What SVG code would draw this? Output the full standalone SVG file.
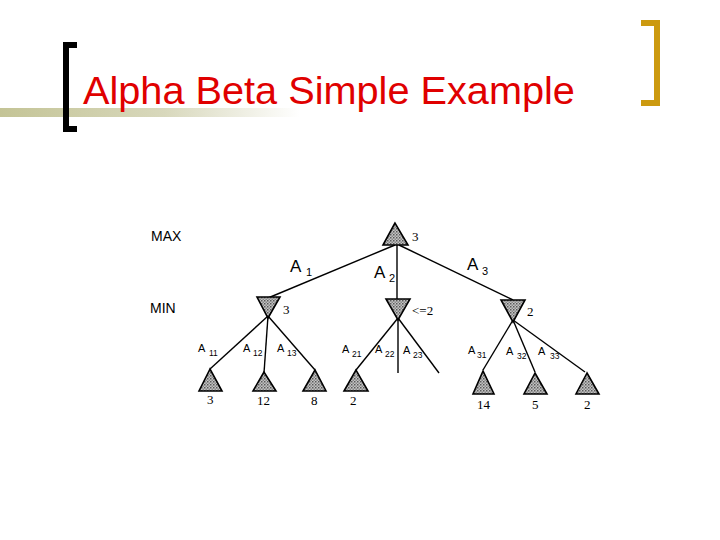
<svg xmlns="http://www.w3.org/2000/svg" width="720" height="540" viewBox="0 0 720 540">
<defs>
<linearGradient id="band" x1="0" y1="0" x2="1" y2="0">
<stop offset="0" stop-color="#c4c496"/>
<stop offset="0.55" stop-color="#d8d8bc"/>
<stop offset="1" stop-color="#ffffff"/>
</linearGradient>
<pattern id="hatch" width="3" height="3" patternUnits="userSpaceOnUse">
<rect width="3" height="3" fill="#c4c4c4"/>
<rect width="1.5" height="1.5" fill="#5a5a5a"/>
<rect x="1.5" y="1.5" width="1.5" height="1.5" fill="#888"/>
</pattern>
<style>
.tri{fill:url(#hatch);stroke:#000;stroke-width:1.6;stroke-linejoin:miter}
.edge{stroke:#000;stroke-width:1.4;fill:none}
.lvl{font-family:"Liberation Sans",Arial,sans-serif;font-size:14px;fill:#000}
.big{font-family:"Liberation Sans",Arial,sans-serif;font-size:17px;fill:#000}
.bsub{font-family:"Liberation Sans",Arial,sans-serif;font-size:11px;fill:#000}
.sm{font-family:"Liberation Sans",Arial,sans-serif;font-size:11px;fill:#000}
.ssub{font-family:"Liberation Sans",Arial,sans-serif;font-size:8.5px;fill:#000}
.val{font-family:"Liberation Serif","Times New Roman",serif;font-size:13px;fill:#000}
</style>
</defs>
<rect width="720" height="540" fill="#fff"/>
<g id="title">
<rect x="0" y="108" width="300" height="9" fill="url(#band)"/>
<path d="M77,45 H66 V129 H77" fill="none" stroke="#000" stroke-width="6"/>
<path d="M641,23 H657 V103 H641" fill="none" stroke="#cc9a10" stroke-width="6"/>
<text x="83" y="104" font-family="'Liberation Sans',Arial,sans-serif" font-size="39.7" fill="#e00000">Alpha Beta Simple Example</text>
</g>
<g id="levels">
<text class="lvl" x="151" y="241">MAX</text>
<text class="lvl" x="150" y="313">MIN</text>
</g>
<g id="connectors">
<line class="edge" x1="395" y1="245" x2="268" y2="298"/>
<line class="edge" x1="397" y1="245" x2="397" y2="299"/>
<line class="edge" x1="399" y1="245" x2="513" y2="300"/>
<line class="edge" x1="268" y1="316" x2="210" y2="369"/>
<line class="edge" x1="268" y1="316" x2="264" y2="373"/>
<line class="edge" x1="268" y1="316" x2="315" y2="370"/>
<line class="edge" x1="398" y1="318" x2="356" y2="370"/>
<line class="edge" x1="398" y1="318" x2="398" y2="373"/>
<line class="edge" x1="398" y1="318" x2="439" y2="373"/>
<line class="edge" x1="513" y1="320" x2="483" y2="370"/>
<line class="edge" x1="513" y1="320" x2="535" y2="372"/>
<line class="edge" x1="513" y1="320" x2="585" y2="372"/>
</g>
<g id="root">
<polygon class="tri" points="395,223 383,245 408,245"/>
<text class="val" x="412" y="241">3</text>
</g>
<g id="min1">
<polygon class="tri" points="257,297 280,297 268,318"/>
<text class="val" x="283" y="314">3</text>
</g>
<g id="min2">
<polygon class="tri" points="386,299 410,299 398,320"/>
<text class="val" x="412" y="315">&lt;=2</text>
</g>
<g id="min3">
<polygon class="tri" points="501,300 525,300 513,322"/>
<text class="val" x="527" y="316">2</text>
</g>
<g id="leaf1">
<polygon class="tri" points="210,369 199,391 222,391"/>
<text class="val" x="207" y="404">3</text>
</g>
<g id="leaf2">
<polygon class="tri" points="264,372 253,391 276,391"/>
<text class="val" x="257" y="405">12</text>
</g>
<g id="leaf3">
<polygon class="tri" points="315,370 303,391 326,391"/>
<text class="val" x="311" y="405">8</text>
</g>
<g id="leaf4">
<polygon class="tri" points="356,370 344,391 368,391"/>
<text class="val" x="350" y="405">2</text>
</g>
<g id="leaf5">
<polygon class="tri" points="483,371 473,394 494,394"/>
<text class="val" x="477" y="409">14</text>
</g>
<g id="leaf6">
<polygon class="tri" points="535,373 524,394 547,394"/>
<text class="val" x="532" y="409">5</text>
</g>
<g id="leaf7">
<polygon class="tri" points="587,373 576,394 599,394"/>
<text class="val" x="584" y="409">2</text>
</g>
<g id="edge-labels">
<text class="big" x="290" y="272">A</text><text class="bsub" x="306" y="276">1</text>
<text class="big" x="374" y="278">A</text><text class="bsub" x="389" y="282">2</text>
<text class="big" x="467" y="270">A</text><text class="bsub" x="482" y="275">3</text>
<text class="sm" x="198" y="352">A</text><text class="ssub" x="209" y="356">11</text>
<text class="sm" x="243" y="352">A</text><text class="ssub" x="253" y="356">12</text>
<text class="sm" x="277" y="352">A</text><text class="ssub" x="287" y="356">13</text>
<text class="sm" x="342" y="353">A</text><text class="ssub" x="352" y="357">21</text>
<text class="sm" x="375" y="353">A</text><text class="ssub" x="385" y="357">22</text>
<text class="sm" x="403" y="354">A</text><text class="ssub" x="413" y="358">23</text>
<text class="sm" x="468" y="354">A</text><text class="ssub" x="477" y="358">31</text>
<text class="sm" x="506" y="355">A</text><text class="ssub" x="517" y="359">32</text>
<text class="sm" x="538" y="355">A</text><text class="ssub" x="550" y="359">33</text>
</g>
</svg>
